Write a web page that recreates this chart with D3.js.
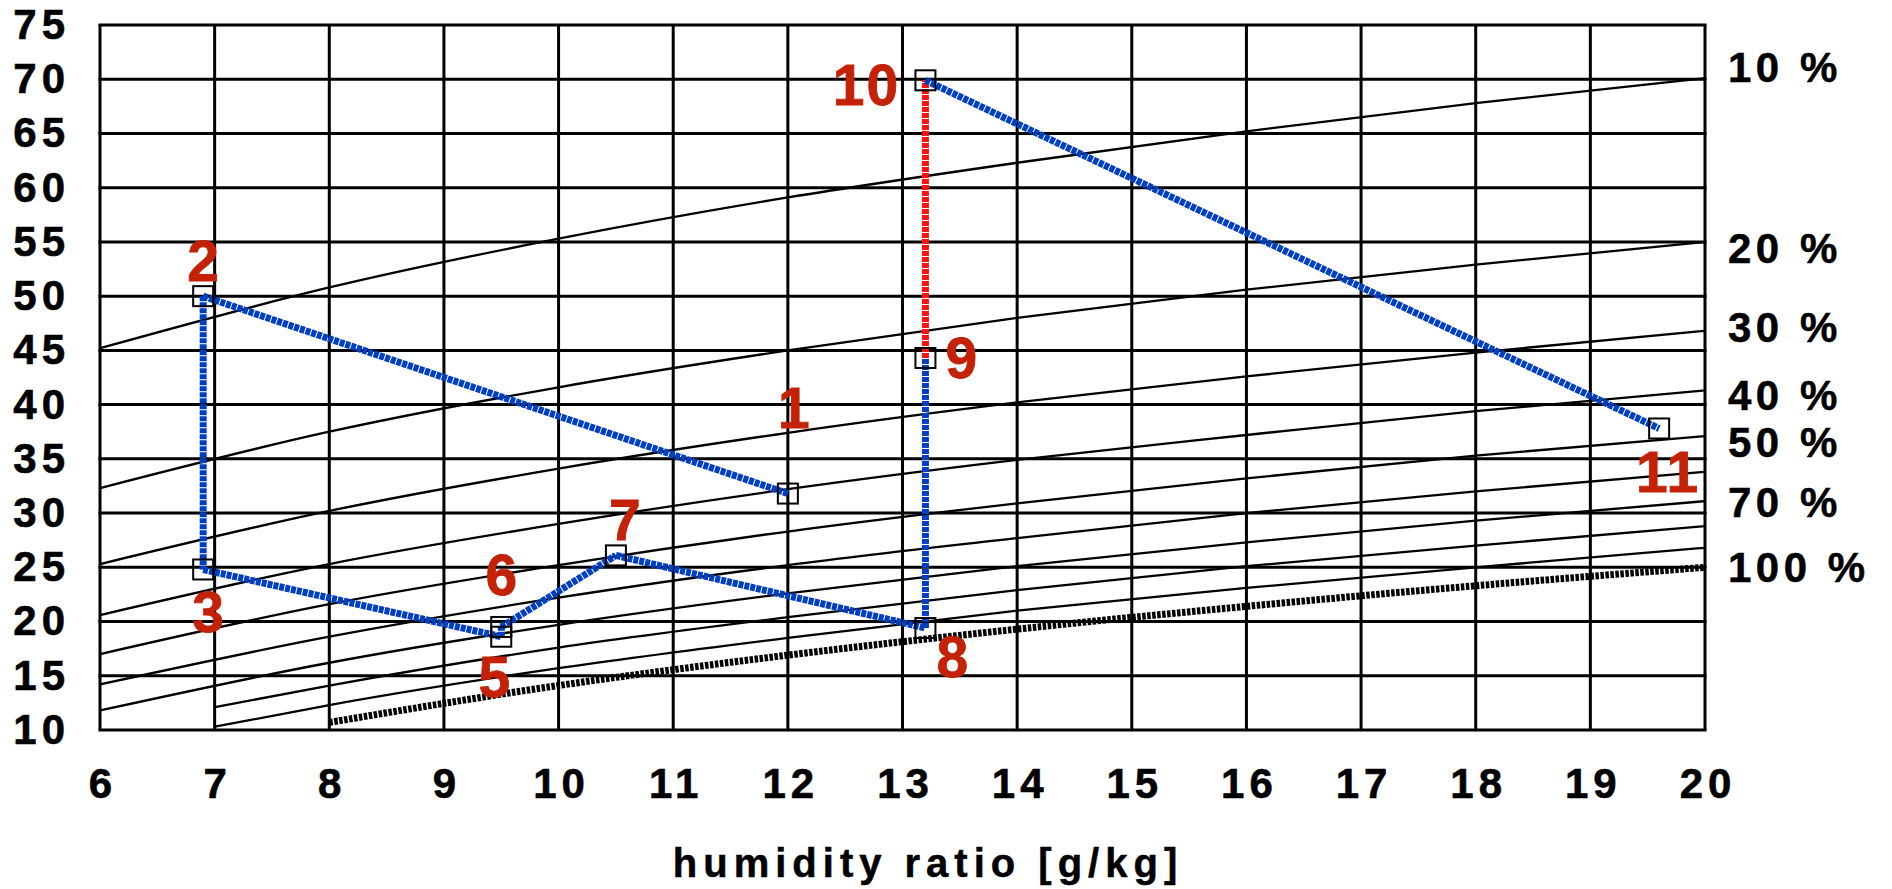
<!DOCTYPE html>
<html>
<head>
<meta charset="utf-8">
<script src="https://cdn.jsdelivr.net/npm/d3@7"></script>
<style>
  body { margin: 0; background: #fff; }
  svg { display: block; font-family: "Liberation Sans", Arial, Helvetica, sans-serif; font-weight: bold; }
</style>
</head>
<body>
<svg width="1892" height="889"></svg>
<script>
// humidity ratio steps the RH curves were read at
var rhX = [6, 8, 10, 12, 14, 16, 18, 20];
var rhX7 = [7, 8, 10, 12, 14, 16, 18, 20];
var rhX8 = [8, 10, 12, 14, 16, 18, 20];

// temperature of each relative humidity curve
var rh10 = [45.2, 50.8, 55.3, 59.1, 62.3, 65.2, 67.8, 70.1];
var rh20 = [32.3, 37.5, 41.6, 45.0, 48.0, 50.6, 52.9, 55.0];
var rh30 = [25.3, 30.2, 34.1, 37.4, 40.2, 42.6, 44.8, 46.8];
var rh40 = [20.6, 25.3, 29.0, 32.2, 34.9, 37.2, 39.4, 41.3];
var rh50 = [17.0, 21.6, 25.2, 28.3, 30.9, 33.2, 35.3, 37.1];
var rh60 = [14.2, 18.6, 22.2, 25.2, 27.7, 30.0, 32.0, 33.8];
var rh70 = [11.8, 16.2, 19.7, 22.6, 25.1, 27.3, 29.3, 31.1];
var rh80 = [12.1, 14.1, 17.6, 20.4, 22.9, 25.1, 27.0, 28.8];
var rh90 = [10.3, 12.3, 15.7, 18.5, 21.0, 23.1, 25.0, 26.8];
var rh100 = [10.7, 14.1, 16.9, 19.3, 21.4, 23.3, 25.0];

var rhLabels = ["10 %", "20 %", "30 %", "40 %", "50 %", "70 %", "100 %"];

// process states (humidity ratio g/kg, temperature)
var stateNames = ["1", "2", "3", "5", "6", "7", "8", "9", "10", "11"];
var stateX = [12.0, 6.9, 6.9, 9.5, 9.5, 10.5, 13.2, 13.2, 13.2, 19.6];
var stateT = [31.8, 50.0, 24.8, 18.6, 19.5, 26.1, 19.4, 44.3, 69.9, 37.8];

var xTicks = d3.range(6, 21, 1);
var yTicks = d3.range(10, 76, 5);

var svg = d3.select("svg");

var x = d3.scaleLinear().domain([6, 20]).range([100, 1705]);
var y = d3.scaleLinear().domain([10, 75]).range([730, 25]);

var curves = [
  {rh: 10, xs: rhX, ts: rh10},
  {rh: 20, xs: rhX, ts: rh20},
  {rh: 30, xs: rhX, ts: rh30},
  {rh: 40, xs: rhX, ts: rh40},
  {rh: 50, xs: rhX, ts: rh50},
  {rh: 60, xs: rhX, ts: rh60},
  {rh: 70, xs: rhX, ts: rh70},
  {rh: 80, xs: rhX7, ts: rh80},
  {rh: 90, xs: rhX7, ts: rh90},
  {rh: 100, xs: rhX8, ts: rh100}
];

// grid
var grid = svg.append("g").attr("class", "grid");
grid.selectAll("line.v")
  .data(xTicks)
  .enter().append("line")
    .attr("class", "v")
    .attr("x1", function(d) { return x(d); })
    .attr("x2", function(d) { return x(d); })
    .attr("y1", y(10))
    .attr("y2", y(75))
    .attr("stroke", "#000")
    .attr("stroke-width", 3);
grid.selectAll("line.h")
  .data(yTicks)
  .enter().append("line")
    .attr("class", "h")
    .attr("x1", x(6) - 1.5)
    .attr("x2", x(20) + 1.5)
    .attr("y1", function(d) { return y(d); })
    .attr("y2", function(d) { return y(d); })
    .attr("stroke", "#000")
    .attr("stroke-width", 3);

// relative humidity curves
var line = d3.line()
  .x(function(d) { return x(d[0]); })
  .y(function(d) { return y(d[1]); })
  .curve(d3.curveMonotoneX);

svg.append("g")
  .selectAll("path")
  .data(curves)
  .enter().append("path")
    .attr("d", function(c) { return line(d3.zip(c.xs, c.ts)); })
    .attr("fill", "none")
    .attr("stroke", "#000")
    .attr("stroke-width", function(c) { return c.rh == 100 ? 7 : 2.3; })
    .attr("stroke-dasharray", function(c) { return c.rh == 100 ? "3.5,1.5" : null; });

// rh labels next to the curve ends
var labelled = curves.filter(function(c) { return [10, 20, 30, 40, 50, 70, 100].indexOf(c.rh) >= 0; });
var rhNudge = [-11, 6, -4, 4, 6, 1, 0];
svg.append("g")
  .selectAll("text")
  .data(labelled)
  .enter().append("text")
    .attr("x", 1728)
    .attr("y", function(c, i) { return y(c.ts[c.ts.length - 1]) + 15 + rhNudge[i]; })
    .attr("font-size", 42)
    .style("letter-spacing", "4.5px")
    .attr("fill", "#000")
    .attr("stroke", "#000")
    .attr("stroke-width", 0.5)
    .text(function(c, i) { return rhLabels[i]; });

// process path
var states = stateNames.map(function(n, i) { return {name: n, x: stateX[i], t: stateT[i]}; });
var segs = d3.pairs(states);
svg.append("g")
  .selectAll("line")
  .data(segs)
  .enter().append("line")
    .attr("x1", function(s) { return x(s[0].x); })
    .attr("y1", function(s) { return y(s[0].t); })
    .attr("x2", function(s) { return x(s[1].x); })
    .attr("y2", function(s) { return y(s[1].t); })
    .attr("stroke", function(s) { return s[0].name == "9" ? "#ff1010" : "#0040c0"; })
    .attr("stroke-width", 7)
    .attr("stroke-dasharray", "5,1");

// state markers
svg.append("g")
  .selectAll("rect")
  .data(states)
  .enter().append("rect")
    .attr("x", function(d) { return x(d.x) - 10; })
    .attr("y", function(d) { return y(d.t) - 10; })
    .attr("width", 20)
    .attr("height", 20)
    .attr("fill", "none")
    .attr("stroke", "#000")
    .attr("stroke-width", 2);

// state numbers
var labelOffset = {
  "1": [7, -66], "2": [1, -15], "3": [6, 63], "5": [-6, 60], "6": [1, -32],
  "7": [10, -15], "8": [28, 49], "9": [37, 20], "10": [-59, 25], "11": [9, 64]
};
svg.append("g")
  .selectAll("text")
  .data(states)
  .enter().append("text")
    .attr("x", function(d) { return x(d.x) + labelOffset[d.name][0]; })
    .attr("y", function(d) { return y(d.t) + labelOffset[d.name][1]; })
    .attr("text-anchor", "middle")
    .attr("font-size", 57)
    .style("letter-spacing", "2px")
    .attr("fill", "#c42208")
    .attr("stroke", "#c42208")
    .attr("stroke-width", 0.8)
    .text(function(d) { return d.name; });

// axes
var yAxis = d3.axisLeft(y).tickValues(yTicks).tickSize(0).tickPadding(30);
var xAxis = d3.axisBottom(x).tickValues(xTicks).tickSize(0).tickPadding(38);

var gy = svg.append("g").attr("transform", "translate(" + x(6) + ",0)").call(yAxis);
var gx = svg.append("g").attr("transform", "translate(0," + y(10) + ")").call(xAxis);
[gx, gy].forEach(function(g) {
  g.select(".domain").remove();
  g.selectAll("text")
    .attr("font-family", null)
    .attr("font-size", 42)
    .style("font-size", "42px")
    .style("font-weight", "bold")
    .style("letter-spacing", "5px")
    .attr("fill", "#000")
    .attr("stroke", "#000")
    .attr("stroke-width", 0.6);
});
gx.selectAll("text").attr("dx", "2.5px");

svg.append("text")
  .attr("x", 928)
  .attr("y", 877)
  .attr("text-anchor", "middle")
  .attr("font-size", 40)
  .style("letter-spacing", "6px")
  .attr("fill", "#000")
  .attr("stroke", "#000")
  .attr("stroke-width", 0.5)
  .text("humidity ratio [g/kg]");
</script>
</body>
</html>
